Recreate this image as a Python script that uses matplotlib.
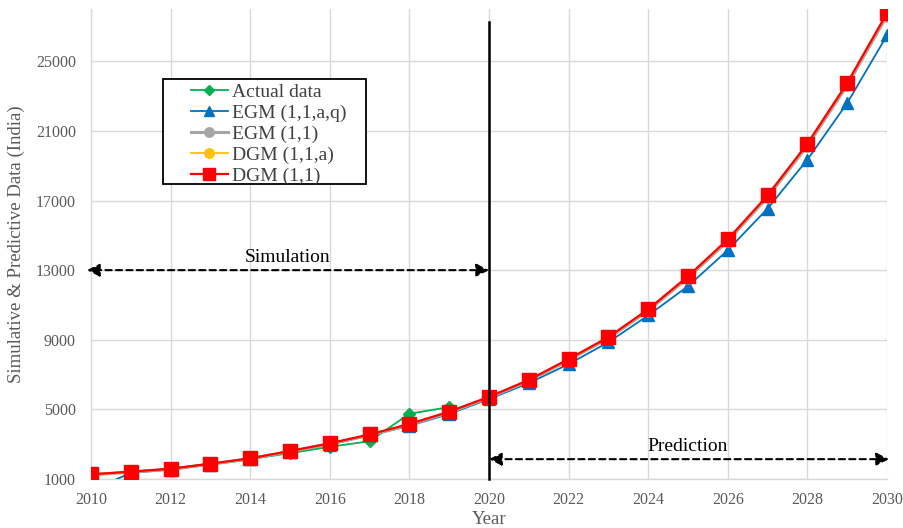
import matplotlib
matplotlib.use("Agg")
import matplotlib.pyplot as plt
from matplotlib.patches import Rectangle

plt.rcParams['font.family'] = ['Liberation Serif', 'DejaVu Serif']

years = list(range(2010, 2031))
actual_years = list(range(2010, 2020))
actual = [1240, 1430, 1580, 1880, 2150, 2480, 2850, 3170, 4750, 5130]
egm_1_1_a_q = [350, 1350, 1540, 1830, 2130, 2540, 2980, 3500, 4050, 4740, 5590,
               6510, 7600, 8860, 10400, 12080, 14150, 16540, 19350, 22600, 26490]
egm_1_1 = [1240, 1390, 1560, 1850, 2160, 2570, 3010, 3520, 4110, 4820, 5670,
           6630, 7830, 9080, 10670, 12560, 14670, 17190, 20140, 23610, 27620]
dgm_1_1_a = [1260, 1410, 1580, 1870, 2180, 2600, 3040, 3550, 4150, 4860, 5710,
             6680, 7880, 9140, 10740, 12640, 14760, 17290, 20260, 23740, 27760]
dgm_1_1 = [1270, 1420, 1590, 1880, 2190, 2610, 3050, 3560, 4160, 4870, 5720,
           6690, 7890, 9150, 10750, 12650, 14770, 17300, 20270, 23750, 27770]

x_ticks = list(range(2010, 2031, 2))
y_ticks = list(range(1000, 28000, 4000))
split_year = 2020
sim_level = 13000
pred_level = 2140

fig = plt.figure(figsize=(9.04, 5.28), dpi=100)
ax = fig.add_axes([0.1007, 0.0928, 0.8805, 0.890])

ax.plot(actual_years, actual, color='#00b050', lw=1.3, marker='D', ms=6,
        label='Actual data', zorder=3)
ax.plot(years, egm_1_1_a_q, color='#0070c0', lw=1.3, marker='^', ms=8,
        label='EGM (1,1,a,q)', zorder=4)
ax.plot(years, egm_1_1, color='#a6a6a6', lw=2.2, marker='o', ms=8,
        label='EGM (1,1)', zorder=5)
ax.plot(years, dgm_1_1_a, color='#ffc000', lw=1.3, marker='o', ms=8,
        label='DGM (1,1,a)', zorder=6)
ax.plot(years, dgm_1_1, color='#ff0000', lw=1.6, marker='s', ms=10,
        label='DGM (1,1)', zorder=7)

ax.set_xlim(2010, 2030)
ax.set_ylim(1000, 28000)
ax.set_xticks(x_ticks)
ax.set_yticks(y_ticks)
ax.grid(True, color='#d9d9d9', lw=1.0, zorder=0)
ax.set_axisbelow(True)
for s in ('top', 'right'):
    ax.spines[s].set_visible(False)
for s in ('left', 'bottom'):
    ax.spines[s].set_color('#d9d9d9')
    ax.spines[s].set_linewidth(1.0)
ax.tick_params(axis='both', length=0, labelsize=11.5, colors='#595959')
ax.tick_params(axis='y', pad=11)
ax.tick_params(axis='x', pad=9.5)

ax.set_xlabel('Year', fontsize=13.5, color='#595959')
ax.xaxis.set_label_coords(0.5, -0.068)
ax.set_ylabel('Simulative & Predictive Data (India)', fontsize=13.5,
              color='#595959')
ax.yaxis.set_label_coords(-0.083, 0.5)

# boundary between simulation and prediction periods
ax.plot([split_year, split_year], [1000, 27250], color='black', lw=1.8,
        zorder=8, clip_on=False)

arrow_kw = dict(arrowstyle='<|-|>,head_length=0.75,head_width=0.38',
                color='black', lw=1.5, linestyle=(0, (3, 2)),
                shrinkA=0, shrinkB=0)
ax.annotate('', xy=(2009.9, sim_level), xytext=(split_year, sim_level),
            arrowprops=arrow_kw, annotation_clip=False, zorder=9)
ax.annotate('', xy=(split_year, pred_level), xytext=(2030.05, pred_level),
            arrowprops=arrow_kw, annotation_clip=False, zorder=9)
ax.text(2014.95, sim_level + 230, 'Simulation', ha='center', va='bottom',
        fontsize=14)
ax.text(2025.0, pred_level + 230, 'Prediction', ha='center', va='bottom',
        fontsize=14)

# legend with a plain black frame
box_x0, box_y0, box_w, box_h = 0.0905, 0.627, 0.255, 0.224
ax.add_patch(Rectangle((box_x0, box_y0), box_w, box_h, transform=ax.transAxes,
                       facecolor='white', edgecolor='black', lw=1.3,
                       zorder=10))
leg = ax.legend(loc='upper left', bbox_to_anchor=(0.1256, 0.842),
                fontsize=14, frameon=False, borderpad=0, markerscale=0.85,
                labelspacing=0.17, handlelength=1.9, handletextpad=0.2,
                borderaxespad=0)
leg.set_zorder(11)
for t in leg.get_texts():
    t.set_color('#404040')

fig.savefig('out.png', dpi=100)
